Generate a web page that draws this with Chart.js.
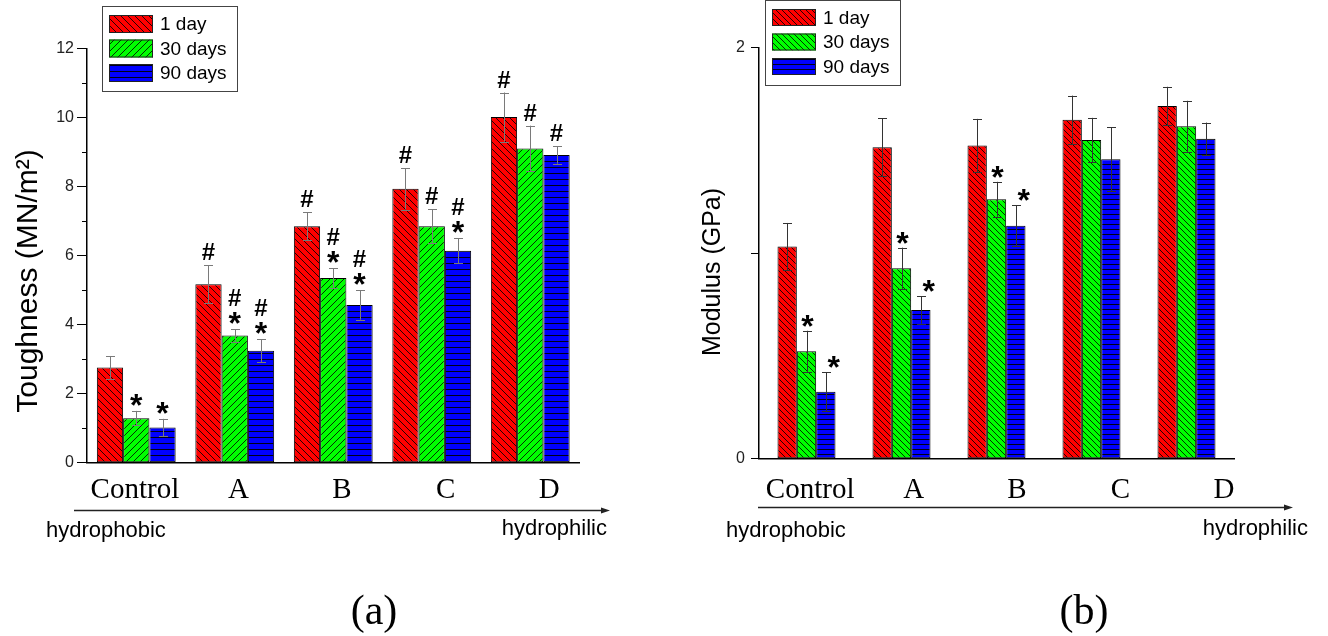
<!DOCTYPE html>
<html><head><meta charset="utf-8">
<script src="https://cdn.jsdelivr.net/npm/chart.js@4.4.0/dist/chart.umd.min.js"></script>
<style>
html,body{margin:0;padding:0;background:#fff;}
#wrap{position:relative;width:1328px;height:636px;overflow:hidden;background:#fff;}
.c{position:absolute;top:0;width:664px;height:636px;}
</style></head><body>
<div id="wrap">
<div class="c" style="left:0"><canvas id="ca"></canvas></div>
<div class="c" style="left:664px"><canvas id="cb"></canvas></div>
</div>
<script>
// ---------- data ----------
const categories = ['Control', 'A', 'B', 'C', 'D'];
const seriesLabels = ['1 day', '30 days', '90 days'];

const toughness1  = [2.76, 5.17, 6.85, 7.93, 10.01];
const toughness30 = [1.29, 3.68, 5.35, 6.85, 9.10];
const toughness90 = [1.02, 3.24, 4.57, 6.14, 8.91];
const toughnessErr1  = [0.33, 0.55, 0.40, 0.60, 0.71];
const toughnessErr30 = [0.21, 0.18, 0.28, 0.49, 0.66];
const toughnessErr90 = [0.25, 0.33, 0.43, 0.36, 0.25];
const toughnessMarks1  = ['', '#', '#', '#', '#'];
const toughnessMarks30 = ['*', '#*', '#*', '#', '#'];
const toughnessMarks90 = ['*', '#*', '#*', '#*', '#'];
const toughnessTicks = [0, 2, 4, 6, 8, 10, 12];
const toughnessMinorTicks = [1, 3, 5, 7, 9, 11];

const modulus1  = [1.031, 1.514, 1.522, 1.648, 1.715];
const modulus30 = [0.522, 0.926, 1.261, 1.549, 1.616];
const modulus90 = [0.326, 0.723, 1.133, 1.456, 1.556];
const modulusErr1  = [0.115, 0.140, 0.130, 0.117, 0.093];
const modulusErr30 = [0.100, 0.100, 0.085, 0.108, 0.124];
const modulusErr90 = [0.095, 0.067, 0.100, 0.155, 0.078];
const modulusMarks1  = ['', '', '', '', ''];
const modulusMarks30 = ['*', '*', '*', '', ''];
const modulusMarks90 = ['*', '*', '*', '', ''];
const modulusTicks = [0, 1, 2];
const modulusTickLabels = ['0', '', '2'];

// ---------- helpers ----------
function hatch(ctx, bg, kind, s, lc) {
  const c = document.createElement('canvas');
  c.width = s; c.height = s;
  const g = c.getContext('2d');
  g.fillStyle = bg; g.fillRect(0, 0, s, s);
  g.strokeStyle = lc; g.lineWidth = 1;
  g.beginPath();
  if (kind === 'back') {
    g.moveTo(-1, -1); g.lineTo(s + 1, s + 1);
    g.moveTo(-1, s - 1); g.lineTo(1, s + 1);
    g.moveTo(s - 1, -1); g.lineTo(s + 1, 1);
  } else if (kind === 'fwd') {
    g.moveTo(-1, s + 1); g.lineTo(s + 1, -1);
    g.moveTo(-1, 1); g.lineTo(1, -1);
    g.moveTo(s - 1, s + 1); g.lineTo(s + 1, s - 1);
  } else {
    g.moveTo(0, s - 0.5); g.lineTo(s, s - 0.5);
  }
  g.stroke();
  return ctx.createPattern(c, 'repeat');
}

const decor = {
  id: 'decor',
  afterDatasetsDraw(chart, args, o) {
    const ctx = chart.ctx, y = chart.scales.y;
    ctx.save();
    chart.data.datasets.forEach((ds, i) => {
      const meta = chart.getDatasetMeta(i);
      meta.data.forEach((bar, j) => {
        const v = ds.data[j], e = ds.errors[j];
        const yt = y.getPixelForValue(v + e), yb = y.getPixelForValue(v - e);
        const x = Math.round(bar.x) + 0.5;
        ctx.strokeStyle = o.errColor; ctx.lineWidth = 1;
        ctx.beginPath();
        ctx.moveTo(x, yt); ctx.lineTo(x, yb);
        ctx.moveTo(x - o.cap, Math.round(yt) + 0.5); ctx.lineTo(x + o.cap, Math.round(yt) + 0.5);
        ctx.moveTo(x - o.cap, Math.round(yb) + 0.5); ctx.lineTo(x + o.cap, Math.round(yb) + 0.5);
        ctx.stroke();
        const m = ds.marks[j] || '';
        let bottom = yt - o.gap;
        ctx.fillStyle = '#000';
        ctx.textAlign = 'center';
        ctx.textBaseline = 'alphabetic';
        for (let k = m.length - 1; k >= 0; k--) {
          const ch = m[k];
          ctx.font = ch === '*' ? o.starFont : o.hashFont;
          const mt = ctx.measureText(ch);
          const dx = (ch === '*' ? (o.starDx[i] || 0) : 0);
          ctx.fillText(ch, bar.x + dx, bottom - mt.actualBoundingBoxDescent);
          bottom = bottom - (mt.actualBoundingBoxAscent + mt.actualBoundingBoxDescent) - o.gap2;
        }
      });
    });
    ctx.restore();
  },
  afterDraw(chart, args, o) {
    const ctx = chart.ctx, a = chart.chartArea, y = chart.scales.y;
    ctx.save();
    ctx.strokeStyle = '#000'; ctx.lineWidth = 1;
    (o.minor || []).forEach(v => {
      const py = Math.round(y.getPixelForValue(v)) + 0.5;
      ctx.beginPath(); ctx.moveTo(a.left - 5, py); ctx.lineTo(a.left, py); ctx.stroke();
    });
    ctx.save();
    ctx.translate(o.yTitle.x, o.yTitle.y);
    ctx.rotate(-Math.PI / 2);
    ctx.fillStyle = '#000';
    ctx.font = o.yTitle.font;
    ctx.textAlign = 'center'; ctx.textBaseline = 'middle';
    ctx.fillText(o.yTitle.text, 0, 0);
    ctx.restore();
    const L = o.legend;
    ctx.fillStyle = '#fff';
    ctx.fillRect(L.x, L.y, L.w, L.h);
    ctx.strokeStyle = '#444'; ctx.lineWidth = 1;
    ctx.strokeRect(L.x + 0.5, L.y + 0.5, L.w, L.h);
    chart.data.datasets.forEach((ds, i) => {
      const sy = L.y + L.top + i * L.pitch;
      ctx.fillStyle = ds.backgroundColor;
      ctx.fillRect(L.x + L.sx, sy, L.sw, L.sh);
      ctx.strokeStyle = '#222';
      ctx.strokeRect(L.x + L.sx + 0.5, sy + 0.5, L.sw - 1, L.sh - 1);
      ctx.fillStyle = '#000';
      ctx.font = L.font;
      ctx.textAlign = 'left'; ctx.textBaseline = 'middle';
      ctx.fillText(ds.label, L.x + L.tx, sy + L.sh / 2 + 1);
    });
    const R = o.arrow;
    ctx.strokeStyle = '#222'; ctx.lineWidth = 1.5;
    ctx.beginPath(); ctx.moveTo(R.x1, R.y); ctx.lineTo(R.x2 - 6, R.y); ctx.stroke();
    ctx.fillStyle = '#222';
    ctx.beginPath(); ctx.moveTo(R.x2, R.y); ctx.lineTo(R.x2 - 9, R.y - 3); ctx.lineTo(R.x2 - 9, R.y + 3); ctx.closePath(); ctx.fill();
    ctx.fillStyle = '#000';
    ctx.font = '22px "Liberation Sans", Arial, sans-serif';
    ctx.textBaseline = 'alphabetic';
    ctx.textAlign = 'left';
    ctx.fillText('hydrophobic', R.t1x, R.t1y);
    ctx.textAlign = 'right';
    ctx.fillText('hydrophilic', R.t2x, R.t2y);
    ctx.textAlign = 'center';
    ctx.font = '42px "Liberation Serif", "Times New Roman", serif';
    ctx.fillText(o.panel.text, o.panel.x, o.panel.y);
    ctx.restore();
  }
};

function build(id, cfg) {
  const el = document.getElementById(id);
  const ctx = el.getContext('2d');
  const fills = cfg.patterns.map(p => hatch(ctx, p[0], p[1], p[2], p[3]));
  const datasets = cfg.series.map((d, i) => ({
    label: seriesLabels[i],
    data: d,
    errors: cfg.errors[i],
    marks: cfg.marks[i],
    backgroundColor: fills[i],
    borderColor: '#000',
    borderWidth: 1,
    borderSkipped: false,
    categoryPercentage: cfg.catPct,
    barPercentage: 1.0,
    xAxisID: 'x', yAxisID: 'y'
  }));
  return new Chart(el, {
    type: 'bar',
    data: { labels: categories, datasets },
    options: {
      responsive: true, maintainAspectRatio: false, animation: false,
      devicePixelRatio: 1,
      layout: { padding: { left: 0, right: cfg.padR, top: cfg.padT, bottom: 0 } },
      plugins: { legend: { display: false }, tooltip: { enabled: false }, decor: cfg.decor },
      scales: {
        x: { type: 'category', display: false, offset: true },
        xl: {
          type: 'linear', position: 'bottom', min: cfg.lblMin, max: cfg.lblMax, bounds: 'data',
          offset: false,
          afterBuildTicks: s => { s.ticks = categories.map((c, i) => ({ value: i })); },
          afterFit: s => { s.height = cfg.axH; },
          grid: { drawOnChartArea: false, drawTicks: false, offset: false },
          border: { display: true, color: '#000', width: 1.5 },
          ticks: {
            autoSkip: false, maxRotation: 0, padding: cfg.lblPad, color: '#000',
            font: { family: '"Liberation Serif", "Times New Roman", serif', size: 29 },
            callback: v => (categories[v] !== undefined ? categories[v] : '')
          }
        },
        y: {
          min: 0, max: cfg.yMax,
          afterBuildTicks: s => { s.ticks = cfg.yTicks.map(v => ({ value: v })); },
          afterFit: s => { s.width = cfg.axW; },
          grid: { drawOnChartArea: false, drawTicks: true, tickLength: cfg.tickLen, color: '#000' },
          border: { display: true, color: '#000', width: 1.5 },
          ticks: {
            padding: cfg.tickPad, color: '#222',
            font: { family: '"Liberation Sans", Arial, sans-serif', size: 16 },
            callback: cfg.yLabel
          }
        }
      }
    },
    plugins: [decor]
  });
}

build('ca', {
  series: [toughness1, toughness30, toughness90],
  errors: [toughnessErr1, toughnessErr30, toughnessErr90],
  marks: [toughnessMarks1, toughnessMarks30, toughnessMarks90],
  patterns: [['#ff0000', 'back', 7, 'rgba(0,0,0,0.85)'], ['#00ff00', 'fwd', 7, 'rgba(0,0,0,0.8)'], ['#0000ff', 'h', 6, 'rgba(0,0,0,0.9)']],
  catPct: 0.8,
  padR: 84.5, padT: 48.3, axW: 87, axH: 173.3,
  lblMin: -0.4626, lblMax: 4.2936, lblPad: 10,
  yMax: 12, yTicks: toughnessTicks, tickLen: 10, tickPad: 3,
  yLabel: v => String(v),
  decor: {
    errColor: '#7a7a7a', cap: 4.5, gap: 5, gap2: 6,
    starFont: 'bold 32px "Liberation Sans", Arial, sans-serif',
    hashFont: 'bold 24px "Liberation Sans", Arial, sans-serif',
    starDx: [0, 0, 0],
    minor: toughnessMinorTicks,
    yTitle: { text: 'Toughness (MN/m\u00B2)', x: 29, y: 281, font: '30px "Liberation Sans", Arial, sans-serif' },
    legend: { x: 102, y: 6, w: 135, h: 85, sx: 7, sw: 44, sh: 18, top: 9, pitch: 24.5, tx: 58, font: '19px "Liberation Sans", Arial, sans-serif' },
    arrow: { x1: 74, x2: 610, y: 510.5, t1x: 46, t1y: 537, t2x: 607, t2y: 535 },
    panel: { text: '(a)', x: 374, y: 624 }
  }
});

build('cb', {
  series: [modulus1, modulus30, modulus90],
  errors: [modulusErr1, modulusErr30, modulusErr90],
  marks: [modulusMarks1, modulusMarks30, modulusMarks90],
  patterns: [['#ff0000', 'back', 6, 'rgba(0,0,0,0.85)'], ['#00ff00', 'back', 6, 'rgba(0,0,0,0.8)'], ['#0000ff', 'h', 5, 'rgba(0,0,0,0.9)']],
  catPct: 0.6105,
  padR: 94, padT: 47.3, axW: 95, axH: 177.3,
  lblMin: -0.4946, lblMax: 4.0975, lblPad: 14,
  yMax: 2, yTicks: modulusTicks, tickLen: 8, tickPad: 6,
  yLabel: (v, i) => modulusTickLabels[i],
  decor: {
    errColor: '#333', cap: 4.5, gap: 4, gap2: 6,
    starFont: 'bold 32px "Liberation Sans", Arial, sans-serif',
    hashFont: 'bold 24px "Liberation Sans", Arial, sans-serif',
    starDx: [0, 1, 8],
    minor: [],
    yTitle: { text: 'Modulus (GPa)', x: 49, y: 272, font: '25px "Liberation Sans", Arial, sans-serif' },
    legend: { x: 101, y: 0, w: 135, h: 85, sx: 7, sw: 44, sh: 17, top: 9, pitch: 24.5, tx: 58, font: '19px "Liberation Sans", Arial, sans-serif' },
    arrow: { x1: 94, x2: 629, y: 507.5, t1x: 62, t1y: 537, t2x: 644, t2y: 535 },
    panel: { text: '(b)', x: 420, y: 624 }
  }
});
</script>
</body></html>
